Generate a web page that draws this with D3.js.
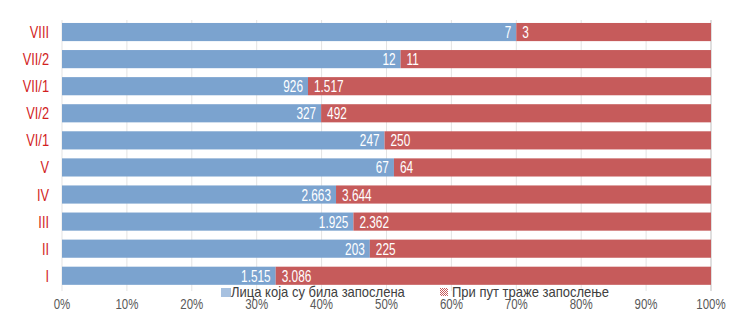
<!DOCTYPE html>
<html>
<head>
<meta charset="utf-8">
<script src="https://cdn.jsdelivr.net/npm/d3@7"></script>
<style>
  body { margin: 0; background: #fff; }
</style>
</head>
<body>
<svg id="chart" width="735" height="312"></svg>
<script>
// categories top to bottom
const categories = ['VIII', 'VII/2', 'VII/1', 'VI/2', 'VI/1', 'V', 'IV', 'III', 'II', 'I'];
// Лица која су била запослена
const employedBefore = [7, 12, 926, 327, 247, 67, 2663, 1925, 203, 1515];
// Први пут траже запослење
const firstTime = [3, 11, 1517, 492, 250, 64, 3644, 2362, 225, 3086];
const seriesNames = ['Лица која  су била запослена', 'При пут траже запослење'];
const ticks = [0, 0.1, 0.2, 0.3, 0.4, 0.5, 0.6, 0.7, 0.8, 0.9, 1];

const blue = '#7ba3cf';
const red = '#c65b5b';
const font = '"Liberation Sans", Arial, sans-serif';

const svg = d3.select('#chart');

const x = d3.scaleLinear().domain([0, 1]).range([62, 711]);
const y = d3.scaleBand().domain(categories).range([18.5, 289.3])
    .paddingInner(0.33).paddingOuter(0.165);

const fmt = v => d3.format(',')(v).replace(/,/g, '.');

// Arial Narrow look-alike: squeeze Liberation Sans horizontally
function addText(parent, data, px, py, opts) {
    return parent.selectAll(null)
        .data(data)
        .enter().append('text')
        .attr('transform', (d, i) => `translate(${px(d, i)},${py(d, i)}) scale(${opts.sx},1)`)
        .attr('text-anchor', opts.anchor)
        .attr('fill', opts.fill)
        .attr('font-family', font)
        .attr('font-size', opts.size)
        .text(opts.text);
}

// gridlines
svg.append('g')
    .selectAll('line')
    .data(ticks)
    .enter().append('line')
    .attr('x1', d => x(d))
    .attr('x2', d => x(d))
    .attr('y1', 20)
    .attr('y2', 291)
    .attr('stroke', d => d === 1 ? '#bfbfbf' : '#e3e3e3')
    .attr('stroke-width', 1);

const rows = categories.map((c, i) => {
    const total = employedBefore[i] + firstTime[i];
    return { cat: c, a: employedBefore[i], b: firstTime[i], share: employedBefore[i] / total };
});

// blue segments
svg.selectAll('.bar-a')
    .data(rows)
    .enter().append('rect')
    .attr('x', x(0))
    .attr('y', d => y(d.cat))
    .attr('width', d => x(d.share) - x(0))
    .attr('height', y.bandwidth())
    .attr('fill', blue);

// red segments
svg.selectAll('.bar-b')
    .data(rows)
    .enter().append('rect')
    .attr('x', d => x(d.share))
    .attr('y', d => y(d.cat))
    .attr('width', d => x(1) - x(d.share))
    .attr('height', y.bandwidth())
    .attr('fill', red);

// value labels
const midY = d => y(d.cat) + y.bandwidth() / 2 + 6;
addText(svg, rows, d => x(d.share) - 5, midY,
    { sx: 0.74, anchor: 'end', fill: '#fff', size: '16px', text: d => fmt(d.a) });
addText(svg, rows, d => x(d.share) + 6, midY,
    { sx: 0.74, anchor: 'start', fill: '#fff', size: '16px', text: d => fmt(d.b) });

// category labels
addText(svg, categories, () => 49, d => y(d) + y.bandwidth() / 2 + 6,
    { sx: 0.8, anchor: 'end', fill: '#d21f1f', size: '16px', text: d => d });

// x tick labels
addText(svg, ticks, d => x(d), () => 309,
    { sx: 0.82, anchor: 'middle', fill: '#595959', size: '14px', text: d => d3.format('.0%')(d) });

// legend
const defs = svg.append('defs');
const pat = defs.append('pattern')
    .attr('id', 'hatch')
    .attr('width', 2)
    .attr('height', 2)
    .attr('patternUnits', 'userSpaceOnUse');
pat.append('rect').attr('width', 2).attr('height', 2).attr('fill', '#fff');
pat.append('rect').attr('width', 1).attr('height', 1).attr('fill', red);
pat.append('rect').attr('x', 1).attr('y', 1).attr('width', 1).attr('height', 1).attr('fill', red);

const legend = svg.append('g');
legend.append('rect')
    .attr('x', 221).attr('y', 288).attr('width', 10).attr('height', 9)
    .attr('fill', '#a7c1e0');
legend.append('rect')
    .attr('x', 440).attr('y', 288).attr('width', 8).attr('height', 8)
    .attr('fill', 'url(#hatch)');
addText(legend, [231, 452], d => d, () => 297,
    { sx: 0.93, anchor: 'start', fill: '#404040', size: '14px', text: (d, i) => seriesNames[i] });
</script>
</body>
</html>
